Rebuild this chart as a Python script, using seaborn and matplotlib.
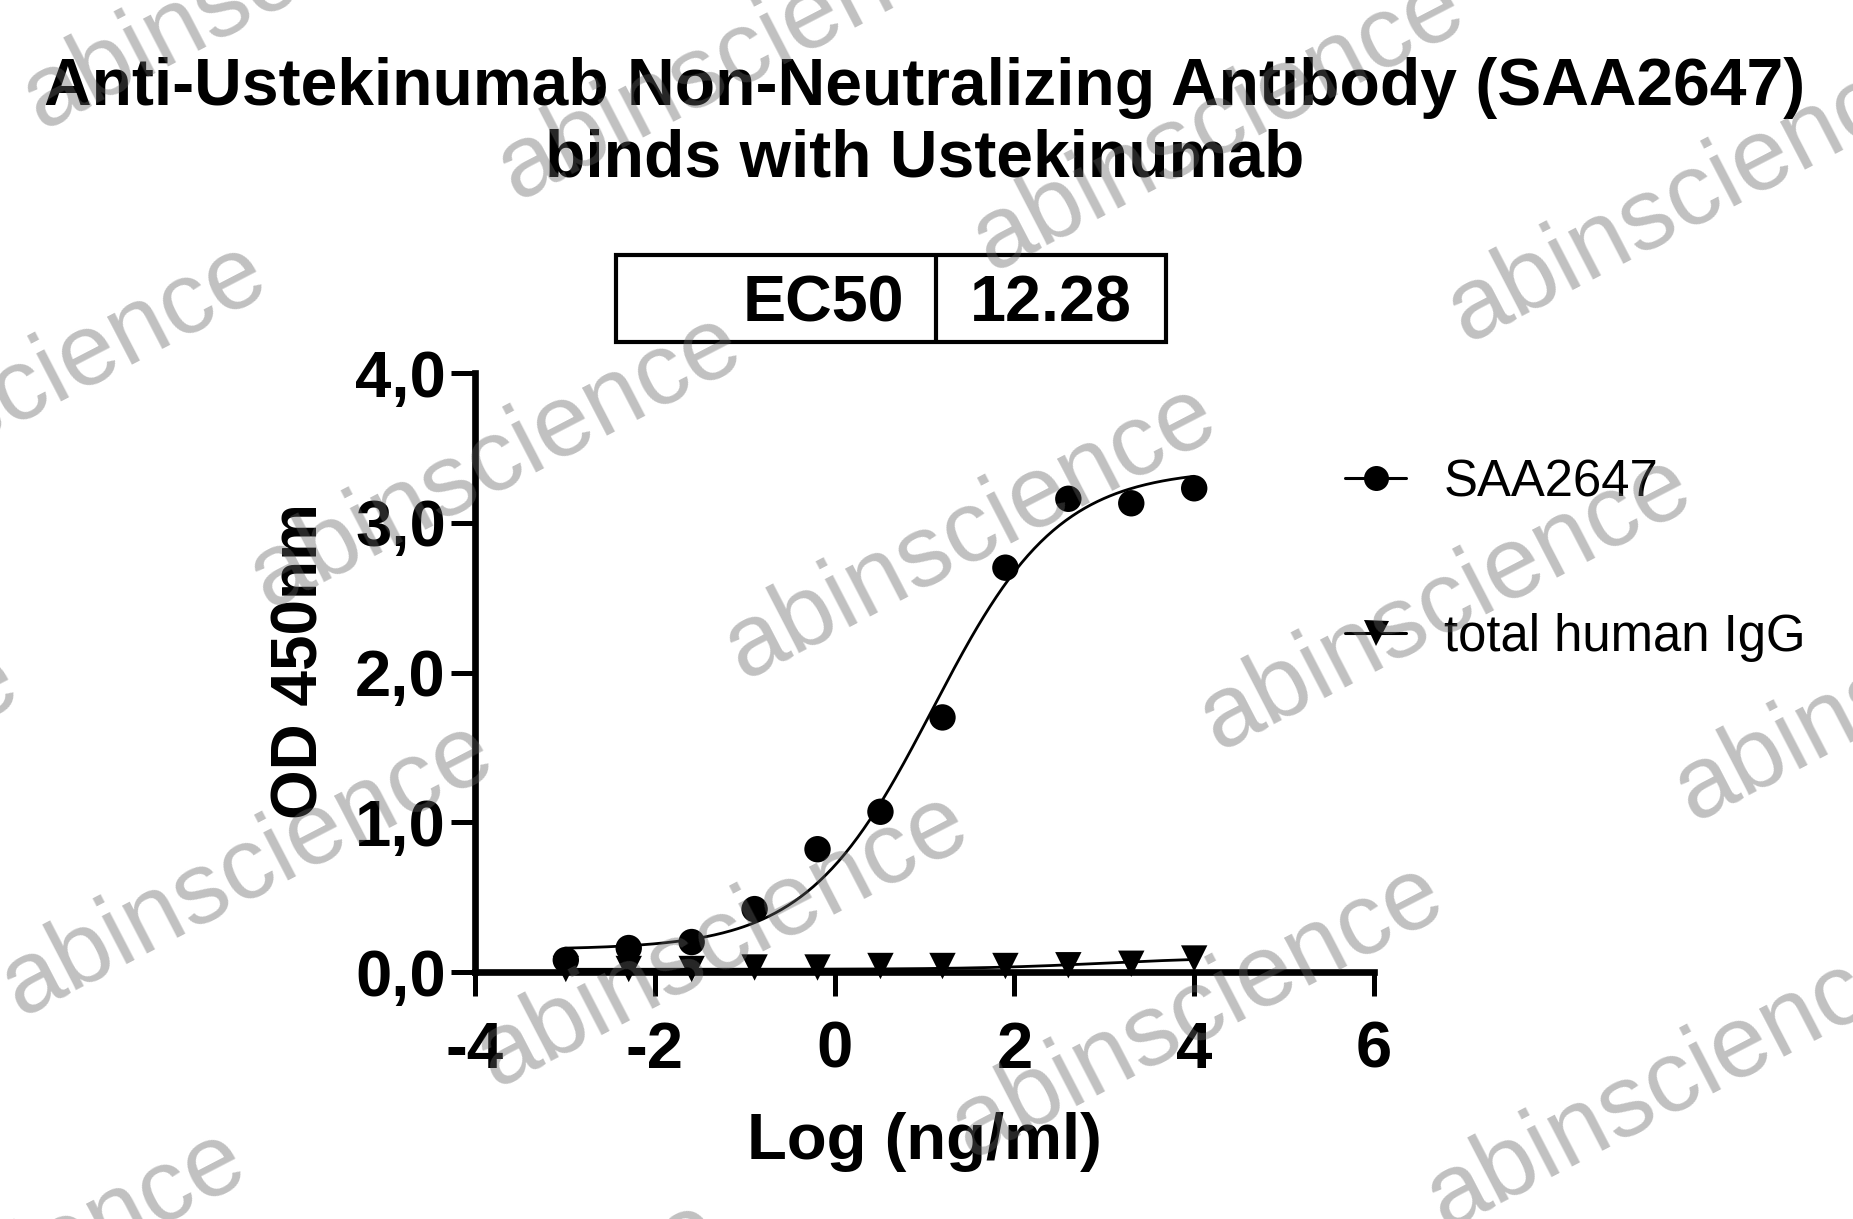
import numpy as np
import pandas as pd
import matplotlib
matplotlib.use("Agg")
import matplotlib.pyplot as plt
from matplotlib.lines import Line2D
from matplotlib.patches import Rectangle
import seaborn as sns

# ---------------- data ----------------
log_conc = [-2.99, -2.29, -1.59, -0.89, -0.19, 0.51, 1.20, 1.90, 2.60, 3.30, 4.00]
od_saa2647 = [0.08, 0.16, 0.20, 0.42, 0.82, 1.07, 1.70, 2.70, 3.16, 3.13, 3.23]
od_igg = [0.02, 0.02, 0.02, 0.03, 0.03, 0.04, 0.04, 0.04, 0.045, 0.055, 0.09]
series_names = ["SAA2647", "total human IgG"]

# four-parameter logistic fits (bottom, top, logEC50, hill)
fit_saa2647 = (0.15, 3.36, np.log10(12.28), 0.62)
fit_igg = (0.018, 0.10, 3.0, 0.60)
fit_range = (-3.0, 4.0)

ec50_label = "EC50"
ec50_value = "12.28"

title_text = "Anti-Ustekinumab Non-Neutralizing Antibody (SAA2647)\nbinds with Ustekinumab"
xlabel_text = "Log (ng/ml)"
ylabel_text = "OD 450nm"
x_ticks = [-4, -2, 0, 2, 4, 6]
y_ticks = [0.0, 1.0, 2.0, 3.0, 4.0]
watermark = "abinscience"

# ---------------- style ----------------
sns.set_theme(style="ticks")
plt.rcParams["font.family"] = ["Liberation Sans", "DejaVu Sans"]
plt.rcParams["axes.unicode_minus"] = False
plt.rcParams["text.color"] = "black"
plt.rcParams["axes.labelcolor"] = "black"
plt.rcParams["xtick.color"] = "black"
plt.rcParams["ytick.color"] = "black"

W, H = 1853, 1219
fig = plt.figure(figsize=(W / 100, H / 100), dpi=100)
fig.patch.set_facecolor("white")

x0, x1, y0, y1 = 475, 1374, 972, 373
ax = fig.add_axes([x0 / W, 1 - y0 / H, (x1 - x0) / W, (y0 - y1) / H])
ax.set_facecolor("none")

def four_pl(x, p):
    b, t, c, h = p
    return b + (t - b) / (1 + 10 ** ((c - x) * h))

xs = np.linspace(fit_range[0], fit_range[1], 300)
curves = pd.DataFrame({
    "x": np.concatenate([xs, xs]),
    "y": np.concatenate([four_pl(xs, fit_saa2647), four_pl(xs, fit_igg)]),
    "series": [series_names[0]] * len(xs) + [series_names[1]] * len(xs),
})
points = pd.DataFrame({
    "x": log_conc + log_conc,
    "y": od_saa2647 + od_igg,
    "series": [series_names[0]] * len(log_conc) + [series_names[1]] * len(log_conc),
})

sns.lineplot(data=curves, x="x", y="y", hue="series", palette=["black", "black"],
             linewidth=2.0, legend=False, ax=ax, sort=False)
for line in ax.lines:
    line.set_clip_on(False)
sns.scatterplot(data=points, x="x", y="y", hue="series", style="series",
                markers={series_names[0]: "o", series_names[1]: "v"},
                palette=["black", "black"], s=19 ** 2, edgecolor="black", linewidth=0,
                legend=False, ax=ax, clip_on=False, zorder=5)

ax.set_xlim(-4, 6)
ax.set_ylim(0, 4)
ax.set_xticks(x_ticks)
ax.set_xticklabels([str(v) for v in x_ticks])
ax.set_yticks(y_ticks)
ax.set_yticklabels([f"{v:.1f}".replace(".", ",") for v in y_ticks])
for s in ["top", "right"]:
    ax.spines[s].set_visible(False)
for s in ["left", "bottom"]:
    ax.spines[s].set_linewidth(4.8)
    ax.spines[s].set_color("black")
    ax.spines[s].set_capstyle("projecting")
ax.tick_params(axis="both", which="major", length=17, width=3.6, color="black",
               direction="out", labelsize=47, labelcolor="black")
ax.tick_params(axis="y", pad=4)
ax.tick_params(axis="x", pad=18)
for lab in ax.get_xticklabels() + ax.get_yticklabels():
    lab.set_fontweight("bold")

ax.set_xlabel(xlabel_text, fontsize=47, fontweight="bold", color="black")
ax.set_ylabel(ylabel_text, fontsize=46, fontweight="bold", color="black")
ax.xaxis.set_label_coords(0.5, (y0 - 1112) / (y0 - y1))
ax.yaxis.set_label_coords((330 - x0) / (x1 - x0), (y0 - 661) / (y0 - y1))

# legend
handles = [
    Line2D([], [], color="black", lw=2.2, marker="o", ms=18, markeredgewidth=0),
    Line2D([], [], color="black", lw=2.2, marker="v", ms=18, markeredgewidth=0),
]
leg = ax.legend(handles, series_names, loc="center left",
                bbox_to_anchor=(1345 / W, 1 - 560 / H), bbox_transform=fig.transFigure,
                frameon=False, fontsize=36.6, handlelength=1.2, handletextpad=0.75,
                labelspacing=2.08, borderpad=0, borderaxespad=0, labelcolor="black")

# title
fig.text(0.499, 1 - 57 / H, title_text, ha="center", va="top", fontsize=47.5,
         fontweight="bold", color="black", linespacing=1.2)

# EC50 table
bx0, bx1, bxm, by0, by1 = 616, 1166, 936, 255, 342
fig.patches.append(Rectangle((bx0 / W, 1 - by1 / H), (bx1 - bx0) / W, (by1 - by0) / H,
                             transform=fig.transFigure, fill=False, lw=3, ec="black"))
fig.add_artist(Line2D([bxm / W, bxm / W], [1 - by0 / H, 1 - by1 / H],
                      transform=fig.transFigure, color="black", lw=3))
ymid = 1 - (by0 + by1) / 2 / H
fig.text(904 / W, ymid, ec50_label, ha="right", va="center_baseline", fontsize=46.5,
         fontweight="bold", color="black")
fig.text((bxm + bx1) / 2 / W, ymid, ec50_value, ha="center", va="center_baseline",
         fontsize=46.5, fontweight="bold", color="black")

# watermarks
ox, oy = 971, 532
a = (475, 71)
b = (-248, 408)
for i in range(-4, 5):
    for j in range(-3, 4):
        cx = ox + i * a[0] + j * b[0]
        cy = oy + i * a[1] + j * b[1]
        if -400 < cx < W + 400 and -300 < cy < H + 300:
            fig.text(cx / W, 1 - cy / H, watermark, ha="center", va="center",
                     rotation=27.4, rotation_mode="anchor", fontsize=73.5,
                     color="#636363", alpha=0.4, zorder=100)

fig.savefig("out.png", dpi=100)
